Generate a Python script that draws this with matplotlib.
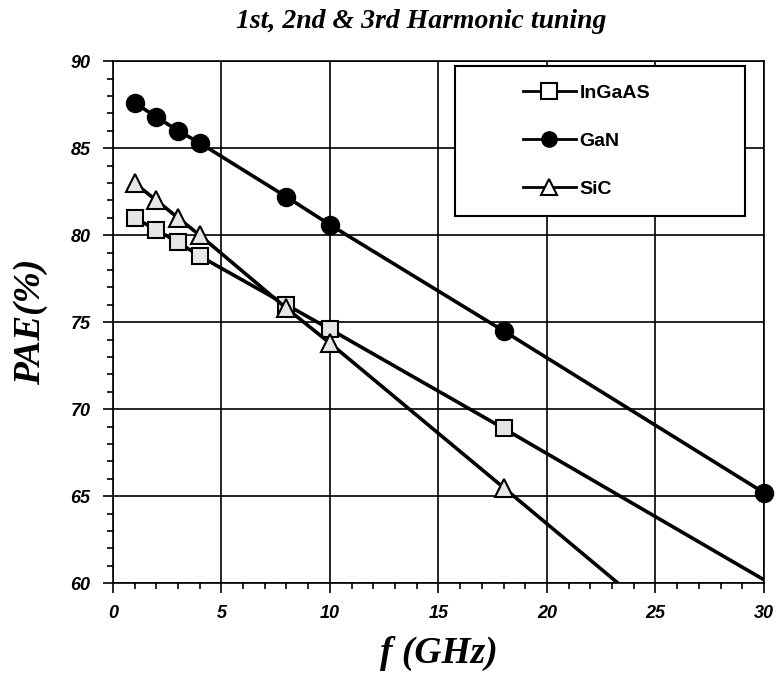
import numpy as np
import matplotlib.pyplot as plt
from matplotlib.ticker import MultipleLocator
from matplotlib.patches import Rectangle

# values
freq = [1, 2, 3, 4, 8, 10, 18, 30]
pae_ingaas = [81.0, 80.3, 79.6, 78.8, 76.0, 74.6, 68.9, 60.2]
pae_gan = [87.6, 86.8, 86.0, 85.3, 82.2, 80.6, 74.5, 65.2]
pae_sic = [83.0, 82.0, 81.0, 80.0, 75.8, 73.8, 65.5, 53.0]

title = '1st, 2nd & 3rd Harmonic tuning'

fig = plt.figure(figsize=(7.78, 6.79), dpi=100)
ax = fig.add_axes([0.145, 0.141, 0.837, 0.769])

# last InGaAS marker sits on the axis corner and is not shown in the original
ax.plot(freq, pae_ingaas, color='black', lw=2.6, marker='s', ms=12,
        mfc='#e6e6e6', mec='black', mew=1.5, label='InGaAS', zorder=3,
        markevery=list(range(len(freq) - 1)))
ax.plot(freq, pae_gan, color='black', lw=2.6, marker='o', ms=13,
        mfc='black', mec='black', label='GaN', zorder=4, clip_on=False)
ax.plot(freq, pae_sic, color='black', lw=2.6, marker='^', ms=13,
        mfc='#e6e6e6', mec='black', mew=1.5, label='SiC', zorder=3)

ax.set_xlim(0, 30)
ax.set_ylim(60, 90)
ax.xaxis.set_major_locator(MultipleLocator(5))
ax.xaxis.set_minor_locator(MultipleLocator(1))
ax.yaxis.set_major_locator(MultipleLocator(5))
ax.yaxis.set_minor_locator(MultipleLocator(1))
ax.grid(True, which='major', color='black', lw=1.2)
ax.tick_params(which='major', direction='out', length=7, width=1.2, pad=9)
ax.tick_params(which='minor', direction='out', length=4, width=1.2)
for s in ax.spines.values():
    s.set_linewidth(1.2)

tickfont = dict(family='Liberation Sans', weight='bold', style='italic', size=13)
ax.set_xticks(range(0, 31, 5))
ax.set_xticklabels([str(v) for v in range(0, 31, 5)], fontdict=tickfont)
ax.set_yticks(range(60, 91, 5))
ax.set_yticklabels([str(v) for v in range(60, 91, 5)], fontdict=tickfont)

labfont = dict(family='Liberation Serif', weight='bold', style='italic', size=27)
ax.set_xlabel('f (GHz)', fontdict=labfont, labelpad=10)
ax.set_ylabel('PAE(%)', fontdict=labfont, labelpad=16)

fig.text(0.541, 0.968, title, ha='center', va='center',
         family='Liberation Serif', weight='bold', style='italic', size=20)

# legend box drawn separately, entries sit right of centre like the original
box = Rectangle((0.525, 0.703), 0.446, 0.287, transform=ax.transAxes,
                facecolor='white', edgecolor='black', lw=1.5, zorder=5)
ax.add_patch(box)
leg = ax.legend(loc='center left', bbox_to_anchor=(0.63, 0.847),
                frameon=False,
                prop=dict(family='Liberation Sans', weight='bold', size=14),
                handlelength=2.7, labelspacing=1.55, borderpad=0,
                handletextpad=0.2, borderaxespad=0)
for h in leg.legend_handles:
    if h.get_marker() != 'o':
        h.set_markerfacecolor('white')
    h.set_markersize(11)
    h.set_linewidth(2)
leg.set_zorder(6)

fig.savefig('out.png', dpi=100)
